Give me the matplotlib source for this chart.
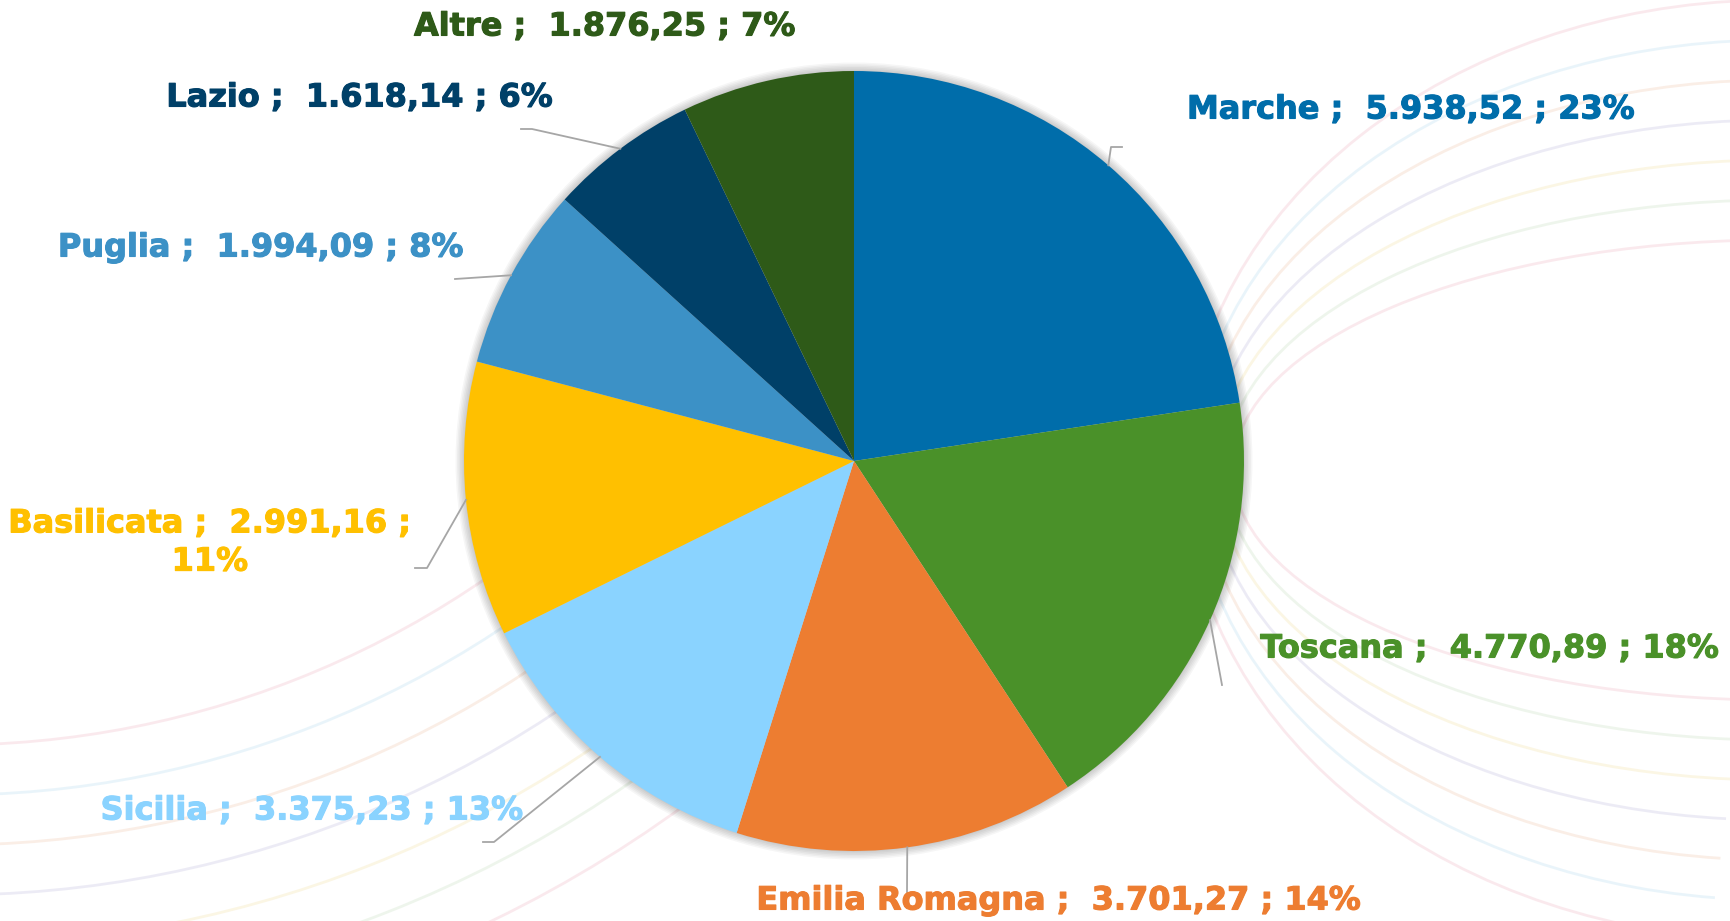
import matplotlib
matplotlib.use("Agg")
import matplotlib.pyplot as plt
from matplotlib.patches import Arc, Circle
import matplotlib.patheffects as pe
import numpy as np

# ---- data ----
regions = ["Marche", "Toscana", "Emilia Romagna", "Sicilia", "Basilicata",
           "Puglia", "Lazio", "Altre"]
values = [5938.52, 4770.89, 3701.27, 3375.23, 2991.16, 1994.09, 1618.14, 1876.25]
colors = ["#006DAA", "#4A9129", "#ED7D31", "#8AD3FF", "#FFC000",
          "#3C91C6", "#004068", "#2E5A18"]

# ---- layout (pixel coords, origin top-left) ----
W, H = 1730, 921
CX, CY, R = 854, 461, 390
label_pos = [(1411, 110), (1490, 649), (1059, 901), (312, 811), (210, 543),
             (261, 248), (360, 98), (605, 27)]
leader_pts = [
    [(1111, 147), (1122, 147)],
    [(1222, 685)],
    [(907, 892)],
    [(494, 842), (483, 842)],
    [(427, 568), (415, 568)],
    [(455, 279)],
    [(532, 129), (521, 129)],
    None,
]
wrap = [False, False, False, False, True, False, False, False]


def it_num(v):
    s = f"{v:,.2f}"
    return s.replace(",", "X").replace(".", ",").replace("X", ".")


fig = plt.figure(figsize=(W / 100, H / 100), dpi=100)
ax = fig.add_axes([0, 0, 1, 1])
ax.set_xlim(0, W)
ax.set_ylim(0, H)
ax.set_aspect("equal")
ax.axis("off")


def Y(y):
    return H - y

# faint decorative background curves
arc_cols = ["#EFB9C6", "#B9DDF0", "#F1C7AE", "#C3C0E0", "#F3E2A8",
            "#C9E0C2", "#EFB9C6", "#B9DDF0"]
for i, c in enumerate(arc_cols[:7]):
    ry = 470 - i * 40
    rx = 590 - i * 8
    ax.add_patch(Arc((1775, Y(470)), 2 * rx, 2 * ry, theta1=92, theta2=262,
                     color=c, lw=2, alpha=0.3, zorder=0))
for i, c in enumerate(arc_cols[:7]):
    r = 945 + i * 50
    ax.add_patch(Arc((-50, Y(-200)), 2 * r, 2 * r, theta1=-92, theta2=-45,
                     color=c, lw=2, alpha=0.3, zorder=0))

# soft shadow around the pie
for k in range(6):
    ax.add_patch(Circle((CX, Y(CY)), R + 1 + k * 1.5, color="#000000",
                        alpha=0.035, lw=0, zorder=1))

wedges, _ = ax.pie(values, colors=colors, startangle=90, counterclock=False,
                   center=(CX, Y(CY)), radius=R,
                   wedgeprops=dict(linewidth=0), frame=False)
for w in wedges:
    w.set_zorder(2)

ax.set_xlim(0, W)
ax.set_ylim(0, H)

total = sum(values)
for i, (name, v) in enumerate(zip(regions, values)):
    pct = round(v / total * 100)
    if wrap[i]:
        txt = f"{name} ;  {it_num(v)} ;\n{pct}%"
    else:
        txt = f"{name} ;  {it_num(v)} ; {pct}%"
    x, y = label_pos[i]
    ax.text(x, Y(y), txt, color=colors[i], fontsize=23, fontweight="bold",
            family="DejaVu Sans", ha="center", va="center",
            linespacing=1.3, zorder=5,
            path_effects=[pe.withStroke(linewidth=0.8, foreground=colors[i])])
    if leader_pts[i] is not None:
        w = wedges[i]
        mid = np.deg2rad((w.theta1 + w.theta2) / 2)
        sx = CX + R * np.cos(mid)
        sy = Y(CY) + R * np.sin(mid)
        xs = [sx] + [p[0] for p in leader_pts[i]]
        ys = [sy] + [Y(p[1]) for p in leader_pts[i]]
        ax.plot(xs, ys, color="#A6A6A6", lw=1.3, zorder=4)

fig.savefig("out.png", dpi=100, facecolor="white")
